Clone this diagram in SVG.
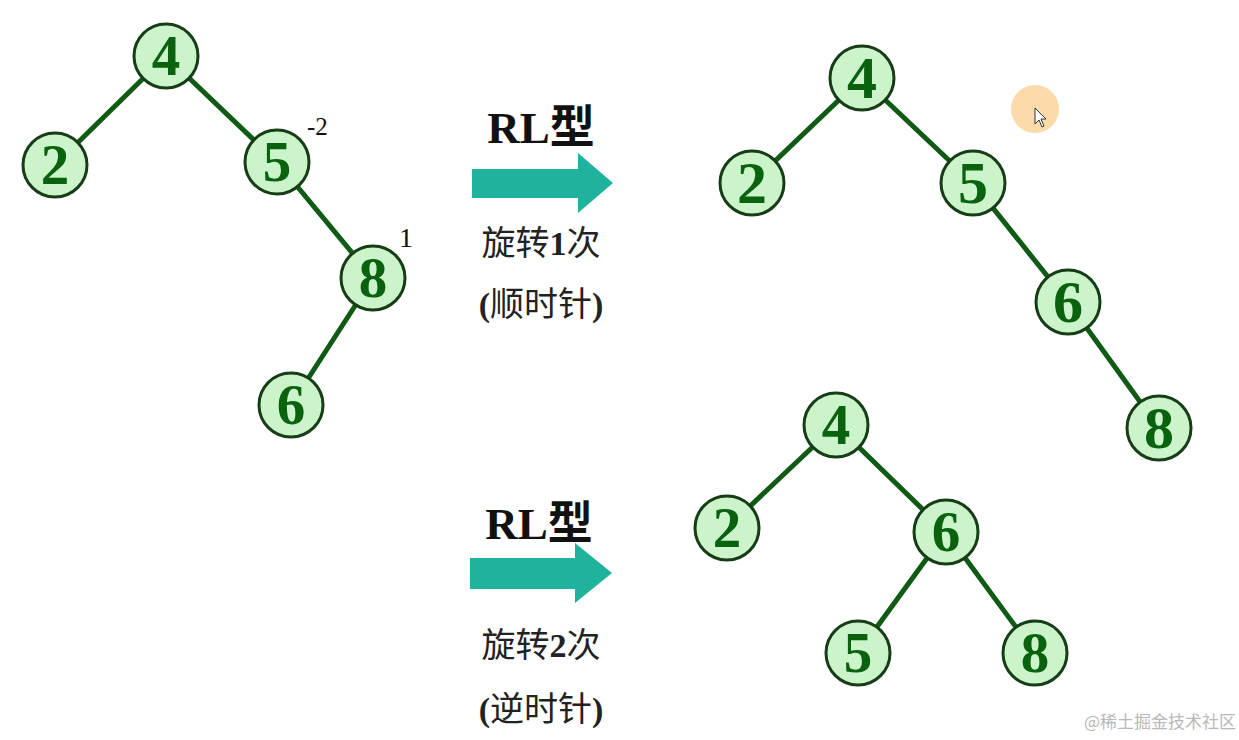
<svg xmlns="http://www.w3.org/2000/svg" width="1239" height="740" viewBox="0 0 1239 740">
<style>
.edge{stroke:#0f5a14;stroke-width:5;stroke-linecap:butt}
.nc{fill:#cbf4cb;stroke:#163d16;stroke-width:3}
.nt{font-family:"Liberation Serif",serif;font-weight:bold;font-size:57px;fill:#0a620f;text-anchor:middle}
.big .nt{font-size:60px}
.ttl{font-family:"Liberation Serif","Noto Sans CJK SC",serif;font-weight:bold;font-size:45px;fill:#111;text-anchor:middle}
.sub{font-family:"Liberation Serif","Noto Sans CJK SC",serif;font-size:34px;fill:#222;text-anchor:middle}
.arr{fill:#1fb29d}
</style>
<rect width="1239" height="740" fill="#ffffff"/>
<g id="connectors">
<line class="edge" x1="166" y1="56" x2="55" y2="165"/>
<line class="edge" x1="166" y1="56" x2="277" y2="162"/>
<line class="edge" x1="277" y1="162" x2="373" y2="278"/>
<line class="edge" x1="373" y1="278" x2="291" y2="405"/>
<line class="edge" x1="862" y1="78" x2="752" y2="183"/>
<line class="edge" x1="862" y1="78" x2="973" y2="183"/>
<line class="edge" x1="973" y1="183" x2="1068" y2="302"/>
<line class="edge" x1="1068" y1="302" x2="1159" y2="428"/>
<line class="edge" x1="836" y1="425" x2="727" y2="528"/>
<line class="edge" x1="836" y1="425" x2="946" y2="532"/>
<line class="edge" x1="946" y1="532" x2="858" y2="653"/>
<line class="edge" x1="946" y1="532" x2="1035" y2="653"/>
</g>
<g id="L4"><circle class="nc" cx="166" cy="56" r="32"/><text class="nt" x="166" y="75">4</text></g>
<g id="L2"><circle class="nc" cx="55" cy="165" r="32"/><text class="nt" x="55" y="184">2</text></g>
<g id="L5"><circle class="nc" cx="277" cy="162" r="32"/><text class="nt" x="277" y="181">5</text></g>
<g id="L8"><circle class="nc" cx="373" cy="278" r="32"/><text class="nt" x="373" y="297">8</text></g>
<g id="L6"><circle class="nc" cx="291" cy="405" r="32"/><text class="nt" x="291" y="424">6</text></g>
<text x="307" y="135" font-family="Liberation Serif, serif" font-size="25" fill="#111">-2</text>
<text x="399" y="247" font-family="Liberation Serif, serif" font-size="28" fill="#111">1</text>
<g class="big">
<g id="T4"><circle class="nc" cx="862" cy="78" r="32"/><text class="nt" x="862" y="98">4</text></g>
<g id="T2"><circle class="nc" cx="752" cy="183" r="32"/><text class="nt" x="752" y="203">2</text></g>
<g id="T5"><circle class="nc" cx="973" cy="183" r="32"/><text class="nt" x="973" y="203">5</text></g>
<g id="T6"><circle class="nc" cx="1068" cy="302" r="32"/><text class="nt" x="1068" y="322">6</text></g>
<g id="T8"><circle class="nc" cx="1159" cy="428" r="32"/><text class="nt" x="1159" y="448">8</text></g>
</g>
<g id="B4"><circle class="nc" cx="836" cy="425" r="32"/><text class="nt" x="836" y="444">4</text></g>
<g id="B2"><circle class="nc" cx="727" cy="528" r="32"/><text class="nt" x="727" y="547">2</text></g>
<g id="B6"><circle class="nc" cx="946" cy="532" r="32"/><text class="nt" x="946" y="551">6</text></g>
<g id="B5"><circle class="nc" cx="858" cy="653" r="32"/><text class="nt" x="858" y="672">5</text></g>
<g id="B8"><circle class="nc" cx="1035" cy="653" r="32"/><text class="nt" x="1035" y="672">8</text></g>
<g id="arrow1">
<polygon class="arr" points="472,169 578,169 578,153 613,183 578,213 578,198 472,198"/>
<text class="ttl" x="541" y="143">RL型</text>
<text class="sub" x="541" y="255">旋转<tspan font-weight="bold">1</tspan>次</text>
<text class="sub" x="541" y="316"><tspan font-weight="bold">(</tspan>顺时针<tspan font-weight="bold">)</tspan></text>
</g>
<g id="arrow2">
<polygon class="arr" points="470,558 575,558 575,543 612,573 575,603 575,589 470,589"/>
<text class="ttl" x="539" y="539">RL型</text>
<text class="sub" x="541" y="657">旋转<tspan font-weight="bold">2</tspan>次</text>
<text class="sub" x="541" y="721"><tspan font-weight="bold">(</tspan>逆时针<tspan font-weight="bold">)</tspan></text>
</g>
<g id="cursor">
<circle cx="1035" cy="109" r="24" fill="#fbd49a" opacity="0.85"/>
<path d="M1035,108 L1035,124 L1039,120 L1042,127 L1044,126 L1041,119 L1046,119 Z" fill="#ffffff" stroke="#333" stroke-width="1"/>
</g>
<text x="1236" y="728" text-anchor="end" font-family="Noto Sans CJK SC,sans-serif" font-size="17" fill="#b8b8b8">@稀土掘金技术社区</text>
</svg>
